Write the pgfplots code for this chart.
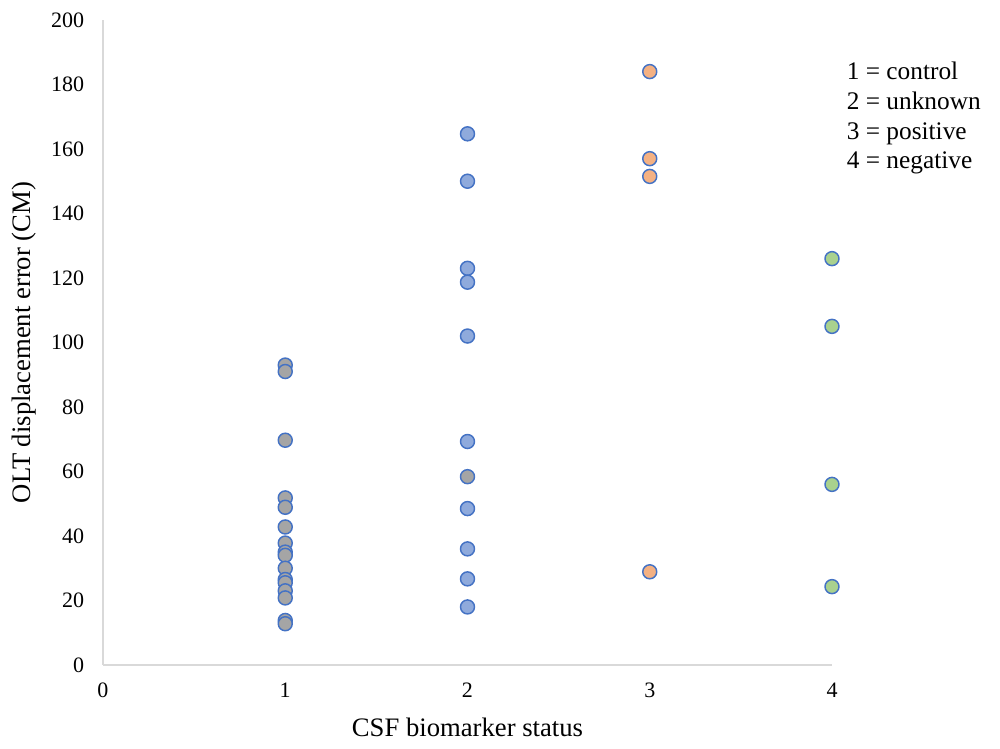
\documentclass[border=0pt]{standalone}
\usepackage{pgfplots}
\pgfplotsset{compat=1.18}
\usepackage{fontspec}
\setmainfont{Liberation Serif}
\definecolor{edge}{HTML}{4472C4}
\definecolor{gfill}{HTML}{A5A5A5}
\definecolor{bfill}{HTML}{8FAADC}
\definecolor{ofill}{HTML}{F4B183}
\definecolor{nfill}{HTML}{A9D18E}
\definecolor{axgray}{HTML}{D9D9D9}
\begin{document}
\begin{tikzpicture}
\useasboundingbox (-77.25pt,-63pt) rectangle (672.75pt,498.75pt);
\begin{axis}[
  at={(0,0)}, anchor=south west,
  scale only axis,
  width=546.75pt, height=483.75pt,
  xmin=0, xmax=4, ymin=0, ymax=200,
  xtick={0,1,2,3,4}, ytick={0,20,...,200},
  axis x line=bottom, axis y line=left,
  axis line style={-, draw=axgray, line width=1pt},
  major tick length=0pt,
  tick label style={font=\fontsize{16.5}{19}\selectfont},
  /pgf/number format/assume math mode=true,
  yticklabel style={inner sep=0pt, xshift=-14pt},
  xticklabel style={inner sep=0pt, yshift=-13pt},
  xlabel={CSF biomarker status},
  ylabel={OLT displacement error (CM)},
  label style={font=\fontsize{20}{24}\selectfont},
  xlabel style={at={(axis description cs:0.5,0)}, anchor=base, yshift=-54pt},
  ylabel style={at={(axis description cs:-0.099,0.5)}, anchor=base},
  clip=false,
]
\addplot[only marks, mark=*, mark size=5.25pt, mark options={draw=edge, fill=bfill, line width=1.1pt}] coordinates {
(2,164.7) (2,150) (2,123) (2,118.7) (2,102) (2,69.3) (2,48.5) (2,36) (2,26.7) (2,18)
};
\addplot[only marks, mark=*, mark size=5.25pt, mark options={draw=edge, fill=gfill, line width=1.1pt}] coordinates {
(1,93) (1,91) (1,69.7) (1,51.8) (1,48.9) (1,42.8) (1,37.8) (1,35) (1,34) (1,30)
(1,26.5) (1,25.5) (1,23) (1,20.8) (1,13.8) (1,12.8) (2,58.4)
};
\addplot[only marks, mark=*, mark size=5.25pt, mark options={draw=edge, fill=ofill, line width=1.1pt}] coordinates {
(3,184) (3,157) (3,151.5) (3,28.9)
};
\addplot[only marks, mark=*, mark size=5.25pt, mark options={draw=edge, fill=nfill, line width=1.1pt}] coordinates {
(4,126) (4,105) (4,56) (4,24.3)
};
\node[anchor=north west, align=left, inner sep=0pt, font=\fontsize{19}{22.3}\selectfont]
  at (rel axis cs:1.02,0.935) {1 = control\\2 = unknown\\3 = positive\\4 = negative};
\end{axis}
\end{tikzpicture}
\end{document}
